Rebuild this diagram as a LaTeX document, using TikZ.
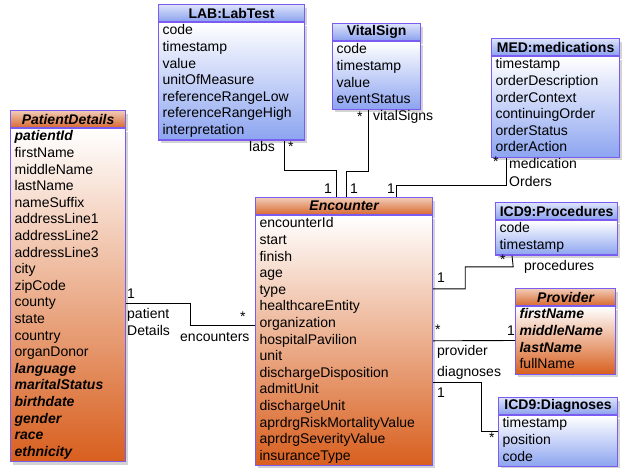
\documentclass[tikz,border=0pt]{standalone}
\usepackage{fontspec}
\setmainfont{Liberation Sans}
\usetikzlibrary{shadows}
\definecolor{umlframe}{HTML}{7B5CF2}
\definecolor{headblue}{HTML}{8BA1EE}
\definecolor{bodyblue}{HTML}{8CA4F0}
\definecolor{headorange}{HTML}{D8692F}
\definecolor{bodyorange}{HTML}{D85F1E}
\tikzset{
  umlbox/.style={draw=umlframe, line width=1.2pt, inner xsep=4pt, inner ysep=0.5pt,
    font=\fontsize{14}{16.6}\selectfont, anchor=north west,
    drop shadow={shadow xshift=2pt, shadow yshift=-3pt, opacity=0.35}},
  umlhead/.style={umlbox, minimum height=17pt, inner ysep=0pt},
  umlbody/.style={umlbox, align=left,
    execute at begin node=\strut, execute at end node=\strut},
  bluehead/.style={umlhead, top color=headblue!30!white, bottom color=headblue,
    font=\fontsize{14}{16.6}\selectfont\bfseries},
  bluebody/.style={umlbody, top color=white, bottom color=bodyblue},
  orangehead/.style={umlhead, top color=headorange!35!white, bottom color=headorange,
    font=\fontsize{14}{16.6}\selectfont\bfseries\itshape},
  orangebody/.style={umlbody, top color=white, bottom color=bodyorange},
  umlline/.style={draw=black, line width=0.9pt},
  tag/.style={inner sep=0pt, anchor=base west, font=\fontsize{14}{16.6}\selectfont}
}
\newcommand{\keyattr}[1]{\textbf{\textit{#1}}}
\begin{document}
\begin{tikzpicture}[x=1pt, y=-1pt]
  \useasboundingbox (0,0) rectangle (622,467);
  % classes
  \node[bluehead, minimum width=146pt] (labhead) at (158,4) {LAB:LabTest};
  \node[bluebody, text width=138pt] (lab) at (labhead.south west)
    {code\\timestamp\\value\\unitOfMeasure\\referenceRangeLow\\referenceRangeHigh\\interpretation};
  \node[bluehead, minimum width=88pt] (vitalhead) at (332,23) {VitalSign};
  \node[bluebody, text width=80pt] (vital) at (vitalhead.south west)
    {code\\timestamp\\value\\eventStatus};
  \node[bluehead, minimum width=128pt] (medhead) at (491,38) {MED:medications};
  \node[bluebody, text width=120pt] (med) at (medhead.south west)
    {timestamp\\orderDescription\\orderContext\\continuingOrder\\orderStatus\\orderAction};
  \node[orangehead, minimum width=115pt] (pathead) at (10,110) {PatientDetails};
  \node[orangebody, text width=107pt] (pat) at (pathead.south west)
    {\keyattr{patientId}\\firstName\\middleName\\lastName\\nameSuffix\\addressLine1\\addressLine2\\addressLine3\\city\\zipCode\\county\\state\\country\\organDonor\\\keyattr{language}\\\keyattr{maritalStatus}\\\keyattr{birthdate}\\\keyattr{gender}\\\keyattr{race}\\\keyattr{ethnicity}};
  \node[orangehead, minimum width=177pt] (enchead) at (255,197) {Encounter};
  \node[orangebody, text width=169pt] (enc) at (enchead.south west)
    {encounterId\\start\\finish\\age\\type\\healthcareEntity\\organization\\hospitalPavilion\\unit\\dischargeDisposition\\admitUnit\\dischargeUnit\\aprdrgRiskMortalityValue\\aprdrgSeverityValue\\insuranceType};
  \node[bluehead, minimum width=122pt] (prochead) at (495,202) {ICD9:Procedures};
  \node[bluebody, text width=114pt] (proc) at (prochead.south west) {code\\timestamp};
  \node[orangehead, minimum width=100pt] (provhead) at (515,288) {Provider};
  \node[orangebody, text width=92pt] (prov) at (provhead.south west)
    {\keyattr{firstName}\\\keyattr{middleName}\\\keyattr{lastName}\\fullName};
  \node[bluehead, minimum width=119pt] (diaghead) at (498,397) {ICD9:Diagnoses};
  \node[bluebody, text width=111pt] (diag) at (diaghead.south west) {timestamp\\position\\code};
  % associations
  \draw[umlline] ([xshift=126pt]lab.south west) -- ++(0,30) -| ([xshift=81pt]enchead.north west);
  \draw[umlline] ([xshift=36pt]vital.south west) -- ++(0,62) -| ([xshift=91pt]enchead.north west);
  \draw[umlline] ([xshift=15pt]med.south west) -- ++(0,27) -| ([xshift=141pt]enchead.north west);
  \draw[umlline] ([yshift=-8.5pt]pat.east) -- ++(64,0) |- ([yshift=15pt]enc.west);
  \draw[umlline] ([yshift=52pt]enc.east) -- ++(32,0) |- ++(48,-22) -- ([xshift=17pt]proc.south west);
  \draw[umlline] (enc.east) -- (prov.west);
  \draw[umlline] ([yshift=-42pt]enc.east) -- ++(48,0) |- ([yshift=10pt]diag.west);
  % role names and multiplicities
  \node[tag] (labsrole) at (249,151) {labs};
  \node[tag] (labsmany) at (288,151) {*};
  \node[tag] (labsone) at (324,193) {1};
  \node[tag] (vitalone) at (350,193) {1};
  \node[tag] (medone) at (387,193) {1};
  \node[tag] (vitalmany) at (357,121) {*};
  \node[tag] (vitalrole) at (373,120) {vitalSigns};
  \node[tag] (medmany) at (493,166) {*};
  \node[tag] (medrole) at (509,168) {medication};
  \node[tag] (medrole2) at (509,186) {Orders};
  \node[tag] (patone) at (127,298) {1};
  \node[tag] (patrole) at (127,318) {patient};
  \node[tag] (patrole2) at (127,335) {Details};
  \node[tag] (encmany) at (240,321) {*};
  \node[tag] (encrole) at (180,341) {encounters};
  \node[tag] (procone) at (437,282) {1};
  \node[tag] (procmany) at (500,264) {*};
  \node[tag] (procrole) at (524,270) {procedures};
  \node[tag] (provmany) at (435,334) {*};
  \node[tag] (provone) at (507,335) {1};
  \node[tag] (provrole) at (437,355) {provider};
  \node[tag] (diagrole) at (437,376) {diagnoses};
  \node[tag] (diagone) at (437,397) {1};
  \node[tag] (diagmany) at (489,442) {*};
\end{tikzpicture}
\end{document}
